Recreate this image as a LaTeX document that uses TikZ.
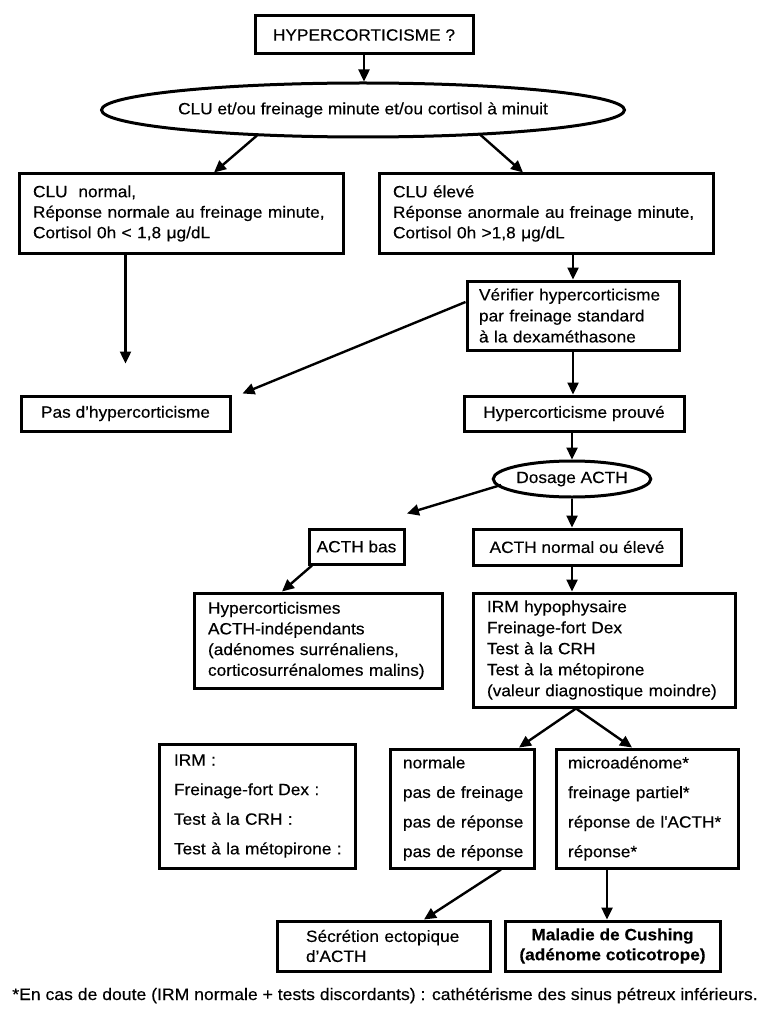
\documentclass[tikz,border=0pt]{standalone}
\usepackage{fontspec}
\setmainfont[FakeStretch=1.06,FakeBold=0.35]{Liberation Sans}
\usetikzlibrary{arrows.meta,shapes.geometric,calc}
\newcommand{\lin}[1]{\mbox{#1}}
\begin{document}
\begin{tikzpicture}[x=1pt,y=-1pt,
  bx/.style={draw, line width=3pt, rectangle, inner ysep=0pt, font=\fontsize{16.3}{20.5}\selectfont},
  ell/.style={draw, line width=3pt, ellipse, inner sep=0pt, font=\fontsize{16.3}{20.5}\selectfont},
  wide/.style={font=\fontsize{16.3}{29.6}\selectfont},
  arr/.style={line width=2.4pt, -{Triangle[length=12pt,width=11pt]}},
  note/.style={inner sep=0pt, font=\fontsize{16.6}{20}\selectfont}]
\useasboundingbox (0,0) rectangle (764,1032);
\fill[white] (0,0) rectangle (764,1032);

\node[bx, minimum width=218pt, minimum height=38pt] (hyp) at (364,35) {HYPERCORTICISME ?};
\node[ell, minimum width=465pt, minimum height=54pt] (ell) at (363,110) {CLU et/ou freinage minute et/ou cortisol à minuit};

\node[bx, minimum height=79pt, inner xsep=14pt, text width=296pt, align=left] (left1) at (181,213.5)
  {\lin{CLU\ \ normal,}\\\lin{Réponse normale au freinage minute,}\\\lin{Cortisol 0h < 1,8 μg/dL}};
\node[bx, minimum height=79pt, inner xsep=14pt, text width=306pt, align=left] (right1) at (546,213.5)
  {\lin{CLU élevé}\\\lin{Réponse anormale au freinage minute,}\\\lin{Cortisol 0h >1,8 μg/dL}};

\node[bx, minimum height=69pt, inner xsep=12pt, text width=188pt, align=left, font=\fontsize{16.3}{21}\selectfont] (verif) at (573,315.5)
  {\lin{Vérifier hypercorticisme}\\\lin{par freinage standard}\\\lin{à la dexaméthasone}};

\node[bx, minimum width=209pt, minimum height=35pt] (pas) at (125.5,413.5) {Pas d’hypercorticisme};
\node[bx, minimum width=220pt, minimum height=35pt] (prouve) at (574,413.5) {Hypercorticisme prouvé};

\node[ell, minimum width=150pt, minimum height=36pt] (dosage) at (572,479) {Dosage ACTH};

\node[bx, minimum width=95pt, minimum height=35pt] (acthbas) at (356.5,546.5) {ACTH bas};
\node[bx, minimum width=208pt, minimum height=36pt] (acthnorm) at (577,547) {ACTH normal ou élevé};

\node[bx, minimum height=95pt, inner xsep=14pt, text width=220pt, align=left, font=\fontsize{16.3}{20.7}\selectfont] (hyperA) at (318,640.5)
  {\lin{Hypercorticismes}\\\lin{ACTH-indépendants}\\\lin{(adénomes surrénaliens,}\\\lin{corticosurrénalomes malins)}};
\node[bx, minimum height=114pt, inner xsep=14pt, text width=234pt, align=left, font=\fontsize{16.3}{21}\selectfont] (irm) at (604,650)
  {\lin{IRM hypophysaire}\\\lin{Freinage-fort Dex}\\\lin{Test à la CRH}\\\lin{Test à la métopirone}\\\lin{(valeur diagnostique moindre)}};

\node[bx, wide, minimum height=124pt, inner xsep=15pt, text width=166pt, align=left] (irmL) at (257,806)
  {\lin{IRM :}\\\lin{Freinage-fort Dex :}\\\lin{Test à la CRH :}\\\lin{Test à la métopirone :}};
\node[bx, wide, minimum height=119pt, inner xsep=13pt, text width=118pt, align=left] (norm) at (462,808.5)
  {\lin{normale}\\\lin{pas de freinage}\\\lin{pas de réponse}\\\lin{pas de réponse}};
\node[bx, wide, minimum height=119pt, inner xsep=12pt, text width=158pt, align=left] (micro) at (647,808.5)
  {\lin{microadénome*}\\\lin{freinage partiel*}\\\lin{réponse de l\textquotesingle ACTH*}\\\lin{réponse*}};

\node[bx, minimum height=50pt, inner xsep=29pt, text width=155pt, align=left, font=\fontsize{16.3}{20}\selectfont] (secr) at (383.5,946)
  {\lin{Sécrétion ectopique}\\\lin{d’ACTH}};
\node[bx, minimum width=215pt, minimum height=50pt, align=center, font=\fontsize{16.3}{20}\bfseries] (mal) at (612.5,946)
  {Maladie de Cushing\\(adénome coticotrope)};

\node[note, anchor=base] (foot) at (385,1000) {*En cas de doute (IRM normale + tests discordants) : cathétérisme des sinus pétreux inférieurs.};

% connectors
\coordinate (m1) at ($(micro.south)+(-40,0)$);
\draw[arr] (hyp.south) -- (hyp.south |- ell.north);
\draw[arr] ($(ell.south)+(-106,-3)$) -- ($(left1.north)+(33,0)$);
\draw[arr] ($(ell.south)+(117,-4)$) -- ($(right1.north)+(-23,0)$);
\draw[arr] (pas.north |- left1.south) -- ($(pas.north)+(0,-31)$);
\draw[arr] (verif.north |- right1.south) -- (verif.north);
\draw[arr] ($(verif.west)+(0,-13.5)$) -- ($(pas.north east)+(11,-1)$);
\draw[arr] (verif.south) -- (verif.south |- prouve.north);
\draw[arr] (dosage.north |- prouve.south) -- (dosage.north);
\draw[arr] ($(dosage.center)+(-71,6)$) -- ($(acthbas.north)+(50.5,-14)$);
\draw[arr] (dosage.south) -- (dosage.south |- acthnorm.north);
\draw[arr] ($(acthbas.south)+(-44.5,0)$) -- ($(hyperA.north)+(-36,0)$);
\draw[arr] (dosage.south |- acthnorm.south) -- (dosage.south |- irm.north);
\draw[arr] ($(irm.south)+(-28,0)$) -- ($(norm.north)+(57,0)$);
\draw[arr] ($(irm.south)+(-28,0)$) -- ($(micro.north)+(-15,0)$);
\draw[arr] ($(norm.south)+(39,0)$) -- ($(secr.north)+(40.5,0)$);
\draw[arr] (m1) -- (m1 |- mal.north);
\end{tikzpicture}
\end{document}
